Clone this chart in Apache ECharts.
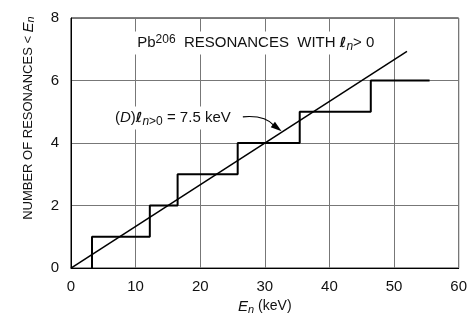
<!DOCTYPE html>
<html>
<head>
<meta charset="utf-8">
<script src="https://cdn.jsdelivr.net/npm/echarts@6/dist/echarts.min.js"></script>
<style>html,body{margin:0;padding:0;background:#fff;}#c{width:470px;height:320px;}</style>
</head>
<body>
<div id="c"></div>
<script>
// Data
var xTicks = [0, 10, 20, 30, 40, 50, 60];
var yTicks = [0, 2, 4, 6, 8];
var resonanceEnergies = [3.25, 12.2, 16.5, 25.8, 35.4, 46.4]; // keV, step positions
var stepEnd = 55.5;            // keV, end of staircase
var meanSpacing = 7.5;         // keV, <D>
var fitLineX = [0, 52];        // keV range of fitted line

var stepData = [];
resonanceEnergies.forEach(function (e, i) {
  stepData.push([e, i]);
  stepData.push([e, i + 1]);
});
stepData.push([stepEnd, resonanceEnergies.length]);
var fitData = fitLineX.map(function (x) { return [x, x / meanSpacing]; });

var FONT = '"Liberation Sans", Arial, sans-serif';
var chart = echarts.init(document.getElementById('c'), null, {renderer: 'canvas'});
chart.setOption({
  animation: false,
  backgroundColor: '#fff',
  grid: {left: 71, right: 11, top: 18, bottom: 46, show: true, borderColor: '#000', borderWidth: 1},
  xAxis: {
    type: 'value', min: xTicks[0], max: xTicks[xTicks.length - 1], interval: 10,
    axisLine: {show: true, lineStyle: {color: '#000', width: 1}},
    axisTick: {show: false},
    splitLine: {show: true, lineStyle: {color: '#777', width: 1}},
    axisLabel: {color: '#111', fontFamily: FONT, fontSize: 15, margin: 11},
    name: '{e|E}{s|n} (keV)', nameLocation: 'middle', nameGap: 29,
    nameTextStyle: {color: '#111', fontFamily: FONT, fontSize: 14,
      rich: {e: {fontStyle: 'italic', fontSize: 15, fontFamily: FONT, color: '#111'},
             s: {fontStyle: 'italic', fontSize: 11, verticalAlign: 'bottom', padding: [6, 0, 0, 0], fontFamily: FONT, color: '#111'}}}
  },
  yAxis: {
    type: 'value', min: yTicks[0], max: yTicks[yTicks.length - 1], interval: 2,
    axisLine: {show: true, lineStyle: {color: '#000', width: 1}},
    axisTick: {show: false},
    splitLine: {show: true, lineStyle: {color: '#777', width: 1}},
    axisLabel: {color: '#111', fontFamily: FONT, fontSize: 15, margin: 12},
    name: 'NUMBER OF RESONANCES < {e|E}{s|n}', nameLocation: 'middle', nameGap: 35,
    nameTextStyle: {color: '#111', fontFamily: FONT, fontSize: 13, padding: [0, 0, 0, 50],
      rich: {e: {fontStyle: 'italic', fontSize: 15, fontFamily: FONT, color: '#111'},
             s: {fontStyle: 'italic', fontSize: 11, verticalAlign: 'bottom', fontFamily: FONT, color: '#111'}}}
  },
  series: [
    {type: 'line', data: stepData, symbol: 'none', lineStyle: {color: '#000', width: 2}, z: 3},
    {type: 'line', data: fitData, symbol: 'none', lineStyle: {color: '#000', width: 1.5}, z: 4}
  ]
});

function px(p) { return chart.convertToPixel({gridIndex: 0}, p); }
var tpos = px([28.6, 7.2]);
var apos = px([6.5, 4.8]);
var a0 = px([26.6, 4.84]);
var a1 = px([32.6, 4.38]);
var rich = {
  t: {fontFamily: FONT, fontSize: 15, fill: '#111'},
  sup: {fontFamily: FONT, fontSize: 12, fill: '#111', verticalAlign: 'top', padding: [0, 0, 7, 0]},
  l: {fontFamily: '"DejaVu Sans", sans-serif', fontStyle: 'italic', fontWeight: 'bold', fontSize: 14, fill: '#111'},
  sub: {fontFamily: FONT, fontStyle: 'italic', fontSize: 12, fill: '#111', padding: [7, 0, 0, 0]},
  subr: {fontFamily: FONT, fontSize: 12, fill: '#111', padding: [7, 0, 0, 0]},
  d: {fontFamily: FONT, fontStyle: 'italic', fontSize: 15, fill: '#111'}
};
// arrowhead geometry
var dx = 1, dy = 0.75, dl = Math.sqrt(dx * dx + dy * dy); dx /= dl; dy /= dl;
var tip = [a1[0], a1[1]];
var base = [tip[0] - 11 * dx, tip[1] - 11 * dy];
chart.setOption({
  graphic: [
    {type: 'text', x: tpos[0], y: tpos[1], z: 10,
     style: {text: '{t|Pb}{sup|206}{t|  RESONANCES  WITH }{l|ℓ}{sub|n}{t|> 0}', rich: rich,
             align: 'center', verticalAlign: 'middle', backgroundColor: '#fff', padding: [2, 3]}},
    {type: 'text', x: apos[0], y: apos[1], z: 10,
     style: {text: '{t|(}{d|D}{t|)}{l|ℓ}{sub|n}{subr|>0}{t| = 7.5 keV}', rich: rich,
             align: 'left', verticalAlign: 'middle', backgroundColor: '#fff', padding: [2, 2]}},
    {type: 'bezierCurve', z: 10,
     shape: {x1: a0[0], y1: a0[1], x2: base[0] + 2 * dx, y2: base[1] + 2 * dy, cpx1: a0[0] + 22, cpy1: a0[1] - 2},
     style: {stroke: '#000', lineWidth: 1.2, fill: null}},
    {type: 'polygon', z: 10,
     shape: {points: [tip, [base[0] - 3.5 * dy, base[1] + 3.5 * dx], [base[0] + 3.5 * dy, base[1] - 3.5 * dx]]},
     style: {fill: '#000'}}
  ]
});
</script>
</body>
</html>
